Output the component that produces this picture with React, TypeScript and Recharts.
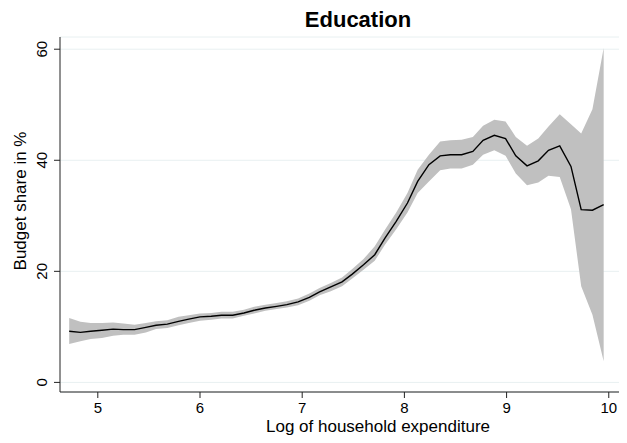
import { Area, CartesianGrid, ComposedChart, Line, XAxis, YAxis } from "recharts";

// Log of household expenditure (bin midpoints)
const logExpenditure = [
  4.72, 4.83, 4.93, 5.04, 5.15, 5.25, 5.36, 5.47, 5.57, 5.68,
  5.79, 5.89, 6.0, 6.11, 6.21, 6.32, 6.43, 6.53, 6.64, 6.75,
  6.85, 6.96, 7.07, 7.17, 7.28, 7.39, 7.49, 7.6, 7.71, 7.81,
  7.92, 8.03, 8.13, 8.24, 8.35, 8.45, 8.56, 8.67, 8.77, 8.88,
  8.99, 9.09, 9.2, 9.31, 9.41, 9.52, 9.63, 9.73, 9.84, 9.95,
];

// Estimated education budget share (%)
const budgetShare = [
  9.2, 9.0, 9.2, 9.4, 9.6, 9.5, 9.5, 9.9, 10.3, 10.5,
  11.0, 11.4, 11.8, 11.9, 12.1, 12.1, 12.5, 13.0, 13.4, 13.7,
  14.0, 14.5, 15.3, 16.3, 17.2, 18.1, 19.5, 21.2, 23.0, 26.0,
  29.0, 32.3, 36.2, 39.2, 40.8, 41.0, 41.0, 41.6, 43.6, 44.5,
  43.9, 40.8, 39.0, 39.9, 41.8, 42.6, 38.9, 31.1, 31.0, 32.0,
];

// 95% confidence band
const ciLower = [
  6.9, 7.4, 7.8, 8.0, 8.4, 8.6, 8.6, 9.0, 9.6, 9.8,
  10.3, 10.7, 11.1, 11.3, 11.5, 11.5, 12.0, 12.4, 12.9, 13.2,
  13.5, 13.9, 14.7, 15.7, 16.4, 17.3, 18.7, 20.3, 21.9, 24.8,
  27.6, 30.6, 34.1, 36.2, 38.2, 38.5, 38.5, 39.2, 41.0, 41.8,
  40.8, 37.6, 35.5, 36.0, 37.2, 37.0, 31.2, 17.3, 12.2, 3.8,
];
const ciUpper = [
  11.6, 10.9, 10.7, 10.7, 10.8, 10.6, 10.4, 10.7, 11.0, 11.2,
  11.8, 12.1, 12.4, 12.5, 12.7, 12.7, 13.1, 13.6, 14.0, 14.3,
  14.6, 15.1, 16.0, 17.0, 17.9, 18.9, 20.4, 22.2, 24.5, 27.5,
  30.6, 34.1, 38.3, 41.0, 43.4, 43.6, 43.7, 44.2, 46.2, 47.3,
  47.0, 44.2, 42.6, 43.9, 46.1, 48.3, 46.5, 44.8, 49.2, 60.2,
];

const xTicks = [5, 6, 7, 8, 9, 10];
const yTicks = [0, 20, 40, 60];

const data = logExpenditure.map((x, i) => ({
  x,
  share: budgetShare[i],
  band: [ciLower[i], ciUpper[i]],
}));

const FONT = "'Liberation Sans', Arial, Helvetica, sans-serif";

const XTick = ({ x, y, payload }: any) => (
  <text x={x} y={y} dy="0.71em" textAnchor="middle" fontSize={15} fontFamily={FONT} fill="#000">
    {payload.value}
  </text>
);

const YTick = ({ x, y, payload }: any) => (
  <text
    x={x - 5}
    y={y}
    transform={`rotate(-90, ${x - 5}, ${y})`}
    textAnchor="middle"
    fontSize={15}
    fontFamily={FONT}
    fill="#000"
  >
    {payload.value}
  </text>
);

export default function App() {
  return (
    <div style={{ position: "absolute", left: 0, top: 0, width: 627, height: 443, background: "#fff" }}>
      <ComposedChart
        width={627}
        height={443}
        data={data}
        margin={{ top: 37, right: 8, bottom: 0, left: 0 }}
      >
        <CartesianGrid vertical={false} stroke="#e8f0f1" strokeWidth={1} />
        <XAxis
          type="number"
          dataKey="x"
          domain={[4.63, 10.1]}
          ticks={xTicks}
          allowDataOverflow
          height={51}
          stroke="#222"
          tickSize={6}
          tickMargin={4}
          tick={<XTick />}
        />
        <YAxis
          type="number"
          domain={[-1.73, 62.2]}
          ticks={yTicks}
          allowDataOverflow
          width={60}
          stroke="#222"
          tickSize={6}
          tick={<YTick />}
        />
        <Area
          type="linear"
          dataKey="band"
          stroke="none"
          fill="#c0c0c0"
          fillOpacity={1}
          isAnimationActive={false}
        />
        <Line
          type="linear"
          dataKey="share"
          stroke="#000"
          strokeWidth={1.4}
          dot={false}
          isAnimationActive={false}
        />
        <text x={358} y={27} textAnchor="middle" fontSize={22} fontWeight="bold" fontFamily={FONT} fill="#000">
          Education
        </text>
        <text x={378} y={432} textAnchor="middle" fontSize={17} fontFamily={FONT} fill="#000">
          Log of household expenditure
        </text>
        <text
          x={26}
          y={201}
          transform="rotate(-90, 26, 201)"
          textAnchor="middle"
          fontSize={17}
          fontFamily={FONT}
          fill="#000"
        >
          Budget share in %
        </text>
      </ComposedChart>
    </div>
  );
}
